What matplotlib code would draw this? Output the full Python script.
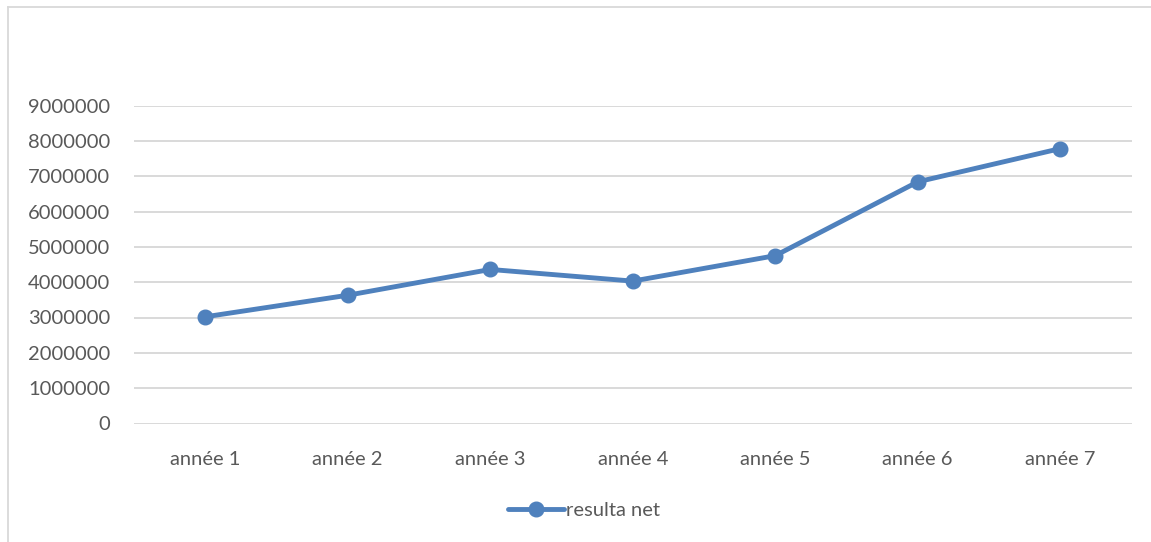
import matplotlib
matplotlib.use("Agg")
import matplotlib.pyplot as plt
from matplotlib.lines import Line2D

categories = ["année 1", "année 2", "année 3", "année 4", "année 5", "année 6", "année 7"]
resulta_net = [3020000, 3630000, 4360000, 4030000, 4750000, 6840000, 7780000]
series_label = "resulta net"
y_ticks = [0, 1000000, 2000000, 3000000, 4000000, 5000000, 6000000, 7000000, 8000000, 9000000]

W, H = 1151, 542
plt.rcParams['font.family'] = ['Lato', 'DejaVu Sans']
text_color = "#595959"
blue = "#4F81BD"
grid_color = "#D9D9D9"

fig = plt.figure(figsize=(W / 100, H / 100), dpi=100)
ax = fig.add_axes([134 / W, 1 - 423.5 / H, (1131.5 - 134) / W, (423.5 - 105.5) / H])

x = list(range(len(categories)))
ax.plot(x, resulta_net, color=blue, linewidth=3.5, marker="o", markersize=10.5,
        solid_capstyle="round", solid_joinstyle="round", zorder=3)

ax.set_xlim(-0.5, len(categories) - 0.5)
ax.set_ylim(y_ticks[0], y_ticks[-1])
ax.set_yticks(y_ticks)
ax.set_yticklabels([str(v) for v in y_ticks])
ax.set_xticks(x)
ax.set_xticklabels(categories)
ax.tick_params(axis="both", length=0, labelsize=14.5, colors=text_color)
ax.tick_params(axis="y", pad=17)
ax.tick_params(axis="x", pad=19.5)
ax.grid(axis="y", color=grid_color, linewidth=1.4, zorder=0)
for s in ax.spines.values():
    s.set_visible(False)
ax.set_axisbelow(True)

# legend
handle = Line2D([0], [0], color=blue, linewidth=3.5, marker="o", markersize=10.5,
                solid_capstyle="round")
fig.legend([handle], [series_label], loc="center", bbox_to_anchor=(584 / W, 1 - 510 / H),
           frameon=False, fontsize=14.5, labelcolor=text_color, handlelength=2.8,
           handletextpad=0.1)

# outer chart frame
fig.add_artist(Line2D([8 / W, 8 / W], [0, 1 - 7 / H], color="#D9D9D9", linewidth=1.3,
                      transform=fig.transFigure))
fig.add_artist(Line2D([8 / W, 1], [1 - 7 / H, 1 - 7 / H], color="#D9D9D9", linewidth=1.3,
                      transform=fig.transFigure))

fig.savefig("out.png", dpi=100)
